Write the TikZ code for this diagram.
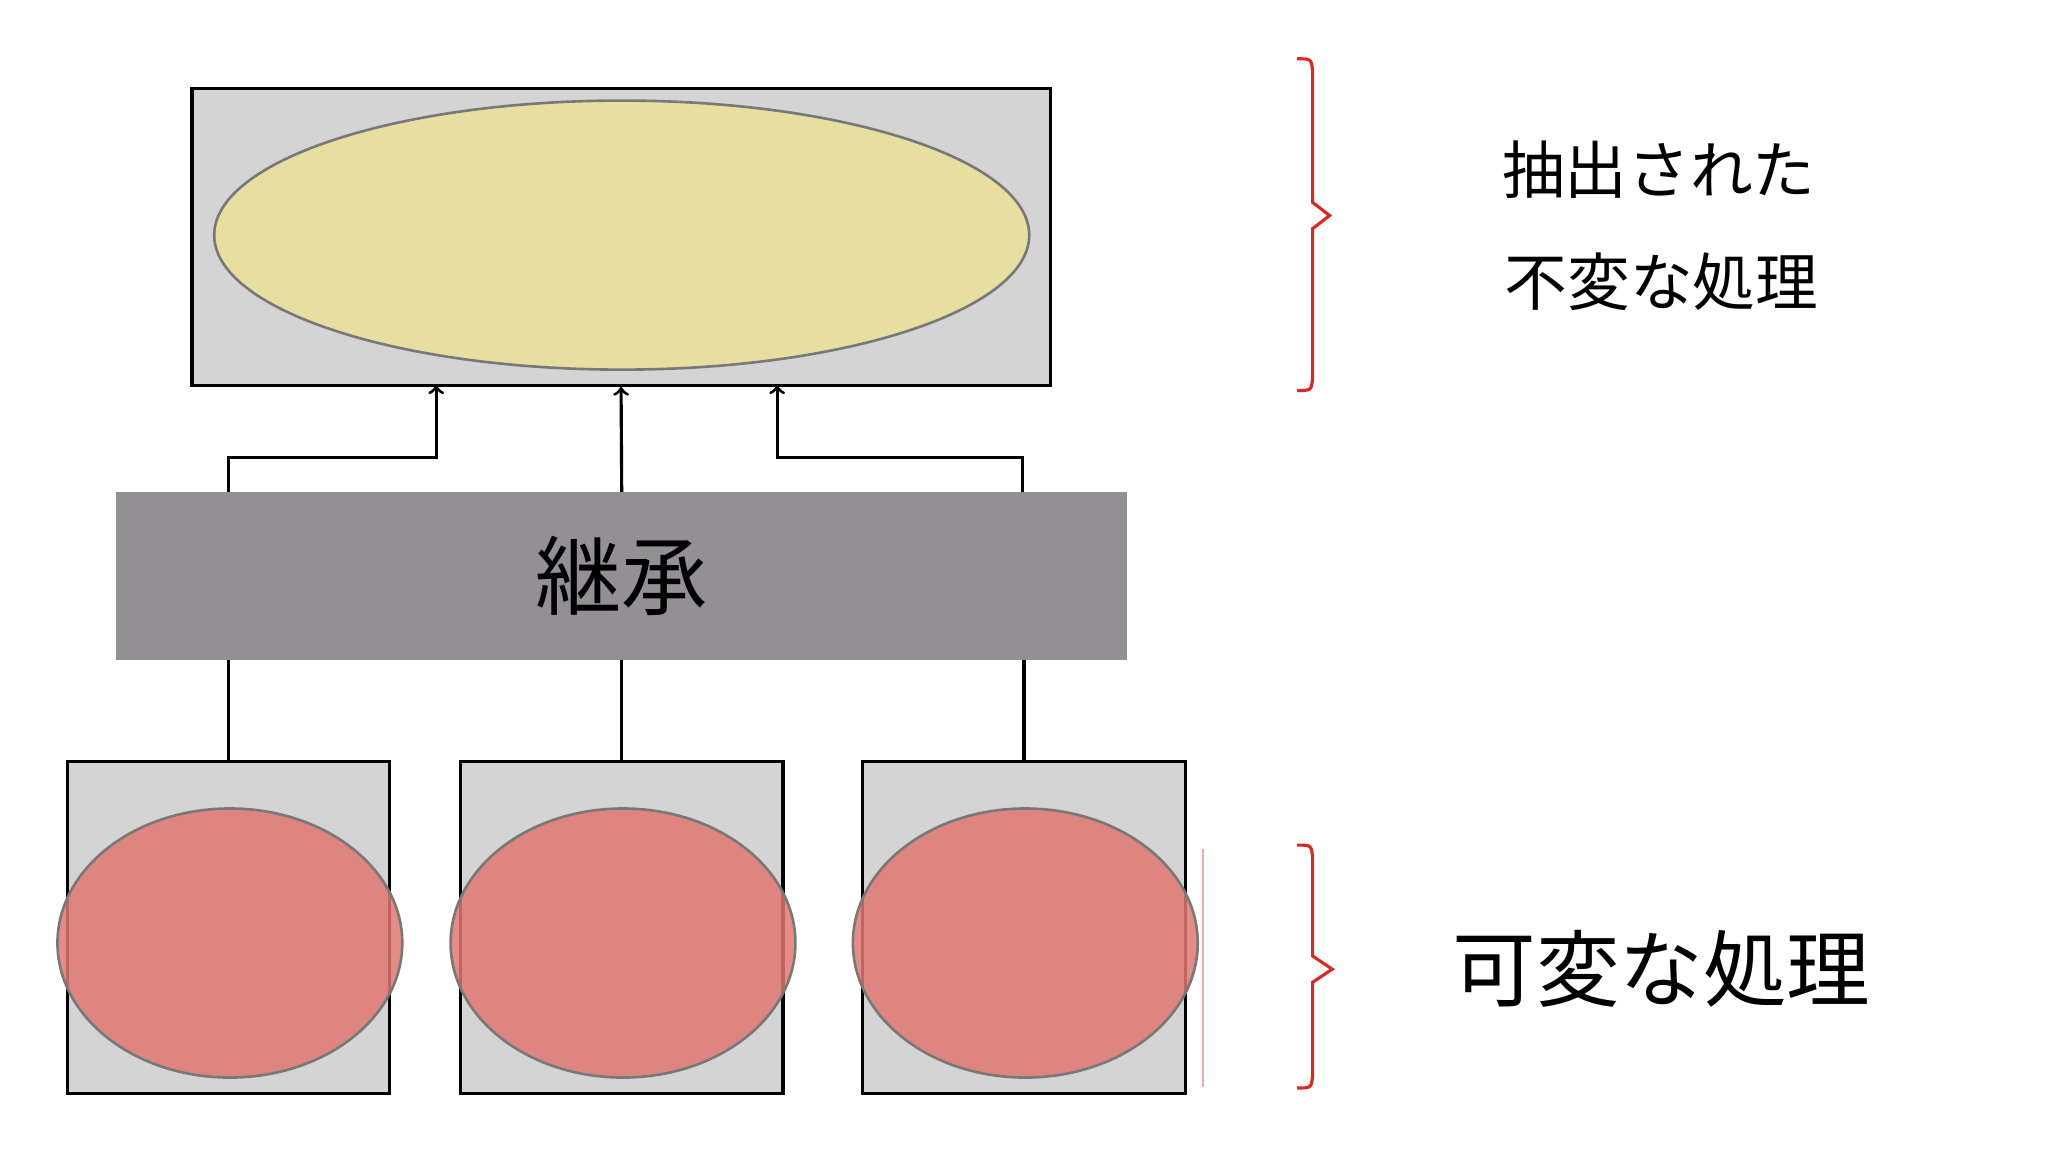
\documentclass[tikz,border=0pt]{standalone}
\usepackage{fontspec}
\usetikzlibrary{shapes.geometric}
\newfontfamily\cjk{Noto Sans CJK JP}
\begin{document}
\begin{tikzpicture}[x=0.5pt,y=-0.5pt,
  box/.style={draw=black,line width=1.2pt,fill={rgb,255:red,213;green,212;blue,213}},
  ell/.style={draw={rgb,255:red,120;green,120;blue,120},line width=1pt},
  conn/.style={draw=black,line width=1.2pt},
  brc/.style={draw={rgb,255:red,220;green,40;blue,30},line width=1.2pt},
  lbl/.style={font=\cjk\fontsize{24}{28}\selectfont}]
\useasboundingbox (0,0) rectangle (1568,882);
\fill[white] (0,0) rectangle (1568,882);
% top
\node[box,minimum width=328.5pt,minimum height=113.5pt,inner sep=0pt] (top) at (475.5,181.5) {};
\node[ell,ellipse,fill={rgb,255:red,230;green,223;blue,160},minimum width=312pt,minimum height=103pt,inner sep=0pt] (tope) at (476,180) {};
% band
\node[fill={rgb,255:red,146;green,144;blue,146},minimum width=387pt,minimum height=64pt,inner sep=0pt,font=\cjk\fontsize{33}{36}\selectfont] (band) at (476,441) {継承};
% bottom boxes
\foreach \n/\x in {a/175,b/476,c/784}{
  \node[box,minimum width=123.5pt,minimum height=127pt,inner sep=0pt] (\n) at (\x,710) {};
  \node[ell,ellipse,fill={rgb,255:red,224;green,120;blue,112},fill opacity=0.85,minimum width=132pt,minimum height=103pt,inner sep=0pt] (\n e) at (\x+1,722) {};
}
% connectors
\coordinate (p1) at (175,350); \coordinate (p2) at (334,350);
\coordinate (p3) at (783,350); \coordinate (p4) at (595,350);
\draw[conn,->] (175,377) -- (p1) -- (p2) -- (334,295);
\draw[conn,->] (band.north) -- (top.south);
\draw[conn,->] (783,377) -- (p3) -- (p4) -- (595,295);
\draw[conn] (a.north) -- (175,505);
\draw[conn] (b.north) -- (band.south);
\draw[conn] (c.north) -- (784,505);
\draw[draw={rgb,255:red,240;green,170;blue,170},line width=0.6pt] (921,650) -- (921,832);
% braces
\draw[brc] (993,45) .. controls (1004,45) .. (1005,55) -- (1005,155) -- (1018,165) -- (1005,175) -- (1005,289) .. controls (1004,299) .. (993,299);
\draw[brc] (993,647) .. controls (1004,647) .. (1005,657) -- (1005,732) -- (1020,742) -- (1005,752) -- (1005,823) .. controls (1004,833) .. (993,833);
% labels
\node[lbl] (t1) at (1270,130) {抽出された};
\node[lbl] (t2) at (1272,216) {不変な処理};
\node[font=\cjk\fontsize{32}{36}\selectfont] (t3) at (1272,742) {可変な処理};
\end{tikzpicture}
\end{document}
